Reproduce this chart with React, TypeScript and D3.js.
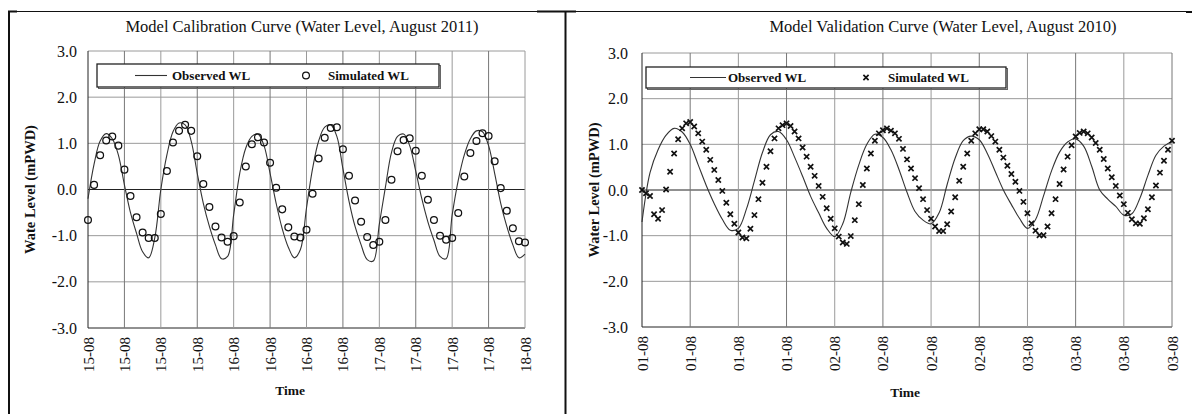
import React from 'react';
import * as d3 from 'd3';

// ---------- data ----------
const yTicks = [3, 2, 1, 0, -1, -2, -3];

// Calibration (August 2011): 15-08 00:00 to 18-08 00:00, 6-hour ticks
const calTickLabels = [
  '15-08', '15-08', '15-08', '15-08',
  '16-08', '16-08', '16-08', '16-08',
  '17-08', '17-08', '17-08', '17-08',
  '18-08',
];
// observed water level, hourly (h0..h72)
const calObserved = [
  -0.20, 0.55, 1.05, 1.21, 1.10, 0.75, 0.10, -0.50, -0.95, -1.35,
  -1.48, -1.05, 0.00, 0.75, 1.25, 1.44, 1.40, 1.05, 0.35, -0.30,
  -0.80, -1.20, -1.50, -1.45, -0.55, 0.35, 0.90, 1.15, 1.20, 0.95,
  0.35, -0.30, -0.85, -1.25, -1.48, -1.30, -0.40, 0.45, 1.05, 1.35,
  1.40, 1.15, 0.45, -0.25, -0.80, -1.20, -1.52, -1.55, -0.75, 0.05,
  0.80, 1.15, 1.20, 0.95, 0.40, -0.20, -0.70, -1.10, -1.45, -1.50,
  -0.55, 0.20, 0.75, 1.10, 1.27, 1.25, 0.95, 0.35, -0.30, -0.80,
  -1.20, -1.48, -1.40,
];
// simulated water level, hourly (h0..h72)
const calSimulated = [
  -0.66, 0.10, 0.74, 1.06, 1.15, 0.95, 0.43, -0.14, -0.60, -0.93,
  -1.05, -1.05, -0.53, 0.40, 1.02, 1.27, 1.40, 1.27, 0.72, 0.12,
  -0.38, -0.80, -1.04, -1.13, -1.01, -0.28, 0.50, 0.98, 1.13, 1.02,
  0.58, 0.04, -0.43, -0.82, -1.02, -1.04, -0.87, -0.09, 0.67, 1.12,
  1.33, 1.35, 0.87, 0.30, -0.24, -0.70, -1.03, -1.20, -1.13, -0.66,
  0.21, 0.83, 1.07, 1.11, 0.84, 0.30, -0.22, -0.66, -1.00, -1.09,
  -1.05, -0.51, 0.28, 0.79, 1.05, 1.22, 1.16, 0.61, 0.03, -0.46,
  -0.84, -1.12, -1.15,
];

// Validation (August 2010): 01-08 00:00 to 03-08 18:00, 6-hour ticks
const valTickLabels = [
  '01-08', '01-08', '01-08', '01-08',
  '02-08', '02-08', '02-08', '02-08',
  '03-08', '03-08', '03-08', '03-08',
];
// observed, hourly (h0..h66)
const valObserved = [
  -0.70, 0.38, 0.88, 1.20, 1.35, 1.27, 1.00, 0.55, 0.10, -0.30,
  -0.64, -0.88, -0.84, -0.42, 0.20, 0.82, 1.21, 1.28, 1.10, 0.72,
  0.30, -0.14, -0.50, -0.84, -1.02, -0.74, -0.05, 0.55, 1.00, 1.22,
  1.15, 0.88, 0.45, -0.05, -0.47, -0.66, -0.74, -0.50, 0.12, 0.70,
  1.08, 1.18, 1.10, 0.80, 0.40, 0.00, -0.32, -0.62, -0.84, -0.65,
  -0.13, 0.42, 0.83, 1.05, 1.12, 0.96, 0.52, 0.00, -0.20, -0.36,
  -0.55, -0.52, -0.18, 0.32, 0.76, 0.96, 1.06,
];
// simulated, half-hourly (0..66 h)
const valSimulated = [
  0.00, -0.07, -0.13, -0.53, -0.63, -0.44, 0.01, 0.40, 0.80, 1.11,
  1.35, 1.46, 1.49, 1.39, 1.24, 1.06, 0.88, 0.66, 0.44, 0.22,
  -0.02, -0.28, -0.53, -0.74, -0.93, -1.04, -1.06, -0.85, -0.55, -0.20,
  0.16, 0.51, 0.85, 1.13, 1.35, 1.42, 1.46, 1.40, 1.28, 1.13,
  0.93, 0.73, 0.51, 0.31, 0.09, -0.15, -0.40, -0.63, -0.84, -1.02,
  -1.15, -1.18, -1.01, -0.66, -0.31, 0.11, 0.47, 0.80, 1.08, 1.24,
  1.31, 1.35, 1.30, 1.24, 1.12, 0.90, 0.67, 0.47, 0.26, 0.04,
  -0.20, -0.44, -0.63, -0.80, -0.90, -0.90, -0.75, -0.47, -0.16, 0.20,
  0.51, 0.80, 1.08, 1.24, 1.33, 1.33, 1.28, 1.18, 1.06, 0.88,
  0.71, 0.53, 0.35, 0.18, -0.02, -0.26, -0.51, -0.73, -0.89, -0.99,
  -0.99, -0.80, -0.51, -0.20, 0.13, 0.45, 0.73, 0.98, 1.17, 1.25,
  1.28, 1.24, 1.15, 1.03, 0.88, 0.68, 0.47, 0.28, 0.09, -0.12,
  -0.31, -0.50, -0.64, -0.73, -0.74, -0.62, -0.42, -0.16, 0.10, 0.38,
  0.64, 0.88, 1.08,
];

const SERIF = "'Liberation Serif', 'Times New Roman', Times, serif";

type PanelProps = {
  title: string;
  titleX: number;
  yLabel: string;
  yLabelX: number;
  box: { x0: number; x1: number; y0: number; y1: number };
  tickLabels: string[];
  tickHours: number;
  obs: number[];
  obsStep: number;
  sim: number[];
  simStep: number;
  marker: 'circle' | 'cross';
  legend: { x: number; y: number; w: number; h: number; lineX0: number; lineX1: number; obsTextX: number; markX: number; simTextX: number };
  timeX: number;
  timeY: number;
  yTickX: number;
};

function crossPath(cx: number, cy: number, s: number) {
  return `M${cx - s},${cy - s}L${cx + s},${cy + s}M${cx - s},${cy + s}L${cx + s},${cy - s}`;
}

function Panel(p: PanelProps) {
  const totalHours = p.tickHours * (p.tickLabels.length - 1);
  const x = d3.scaleLinear().domain([0, totalHours]).range([p.box.x0, p.box.x1]);
  const y = d3.scaleLinear().domain([-3, 3]).range([p.box.y1, p.box.y0]);
  const line = d3
    .line<number>()
    .x((_, i) => x(i * p.obsStep))
    .y((d) => y(d))
    .curve(d3.curveCatmullRom.alpha(0.5));
  const ticksX = p.tickLabels.map((_, i) => i * p.tickHours);
  const ly = p.legend.y + p.legend.h / 2;
  return (
    <g>
      <text x={p.titleX} y={31.5} textAnchor="middle" fontFamily={SERIF} fontSize={16.5} fill="#111">
        {p.title}
      </text>
      {/* grid */}
      {yTicks.map((t) => (
        <line key={'h' + t} x1={p.box.x0} x2={p.box.x1} y1={y(t)} y2={y(t)}
          stroke={t === 0 || t === -3 ? '#222' : '#9a9a9a'} strokeWidth={1} />
      ))}
      {ticksX.map((h, i) => (
        <line key={'v' + i} x1={x(h)} x2={x(h)} y1={p.box.y0} y2={p.box.y1}
          stroke={i === 0 ? '#222' : i % 2 === 1 ? '#777' : '#9a9a9a'} strokeWidth={1} />
      ))}
      {/* y tick labels */}
      {yTicks.map((t) => (
        <text key={'yl' + t} x={p.yTickX} y={y(t) + 5.5} textAnchor="end" fontFamily={SERIF} fontSize={16} fill="#111">
          {t.toFixed(1)}
        </text>
      ))}
      {/* x tick labels */}
      {ticksX.map((h, i) => (
        <text key={'xl' + i} transform={`translate(${x(h) + 5.5},${p.box.y1 + 9}) rotate(-90)`} textAnchor="end"
          fontFamily={SERIF} fontSize={15} fill="#111">
          {p.tickLabels[i]}
        </text>
      ))}
      {/* axis titles */}
      <text transform={`translate(${p.yLabelX},${(p.box.y0 + p.box.y1) / 2}) rotate(-90)`} textAnchor="middle"
        fontFamily={SERIF} fontWeight="bold" fontSize={14.5} fill="#111">
        {p.yLabel}
      </text>
      <text x={p.timeX} y={p.timeY} textAnchor="middle" fontFamily={SERIF} fontWeight="bold" fontSize={13.5} fill="#111">
        Time
      </text>
      {/* observed */}
      <path d={line(p.obs) || ''} fill="none" stroke="#333" strokeWidth={1.1} />
      {/* simulated */}
      {p.sim.map((v, i) => {
        const cx = x(i * p.simStep);
        const cy = y(v);
        return p.marker === 'circle' ? (
          <circle key={'s' + i} cx={cx} cy={cy} r={3.4} fill="none" stroke="#111" strokeWidth={1.25} />
        ) : (
          <path key={'s' + i} d={crossPath(cx, cy, 2.6)} stroke="#111" strokeWidth={1.7} />
        );
      })}
      {/* legend */}
      <rect x={p.legend.x + 1.5} y={p.legend.y + 1.5} width={p.legend.w} height={p.legend.h} fill="none" stroke="#666" strokeWidth={1} />
      <rect x={p.legend.x} y={p.legend.y} width={p.legend.w} height={p.legend.h} fill="#fff" stroke="#222" strokeWidth={1.3} />
      <line x1={p.legend.lineX0} x2={p.legend.lineX1} y1={ly} y2={ly} stroke="#333" strokeWidth={1.1} />
      <text x={p.legend.obsTextX} y={ly + 4.5} fontFamily={SERIF} fontWeight="bold" fontSize={13} fill="#111">Observed WL</text>
      {p.marker === 'circle' ? (
        <circle cx={p.legend.markX} cy={ly} r={3.4} fill="none" stroke="#111" strokeWidth={1.25} />
      ) : (
        <path d={crossPath(p.legend.markX, ly, 2.6)} stroke="#111" strokeWidth={1.7} />
      )}
      <text x={p.legend.simTextX} y={ly + 4.5} fontFamily={SERIF} fontWeight="bold" fontSize={13} fill="#111">Simulated WL</text>
    </g>
  );
}

export default function App() {
  return (
    <svg width={1192} height={414} style={{ position: 'absolute', left: 0, top: 0, background: '#fff' }}>
      {/* table borders */}
      <line x1={8} x2={1190} y1={11.5} y2={11.5} stroke="#111" strokeWidth={1} />
      <line x1={8} x2={17} y1={11.5} y2={11.5} stroke="#111" strokeWidth={2} />
      <line x1={537} x2={576} y1={11.5} y2={11.5} stroke="#111" strokeWidth={2} />
      <line x1={1186} x2={1192} y1={12} y2={12} stroke="#111" strokeWidth={2} />
      <line x1={9} x2={9} y1={11} y2={414} stroke="#111" strokeWidth={2} />
      <line x1={565.5} x2={565.5} y1={11} y2={414} stroke="#111" strokeWidth={2} />
      <Panel
        title="Model Calibration Curve (Water Level, August 2011)"
        titleX={302}
        yLabel="Wate Level (mPWD)"
        yLabelX={35}
        box={{ x0: 88, x1: 525, y0: 51, y1: 328 }}
        tickLabels={calTickLabels}
        tickHours={6}
        obs={calObserved}
        obsStep={1}
        sim={calSimulated}
        simStep={1}
        marker="circle"
        legend={{ x: 97, y: 64, w: 342, h: 23, lineX0: 135, lineX1: 167, obsTextX: 172, markX: 306, simTextX: 328 }}
        timeX={290}
        timeY={395}
        yTickX={77}
      />
      <Panel
        title="Model Validation Curve (Water Level, August 2010)"
        titleX={943}
        yLabel="Water Level (mPWD)"
        yLabelX={599}
        box={{ x0: 642, x1: 1172, y0: 53, y1: 327 }}
        tickLabels={valTickLabels}
        tickHours={6}
        obs={valObserved}
        obsStep={1}
        sim={valSimulated}
        simStep={0.5}
        marker="cross"
        legend={{ x: 646, y: 67, w: 360, h: 21, lineX0: 690, lineX1: 726, obsTextX: 728, markX: 866, simTextX: 888 }}
        timeX={905}
        timeY={397}
        yTickX={628}
      />
    </svg>
  );
}
